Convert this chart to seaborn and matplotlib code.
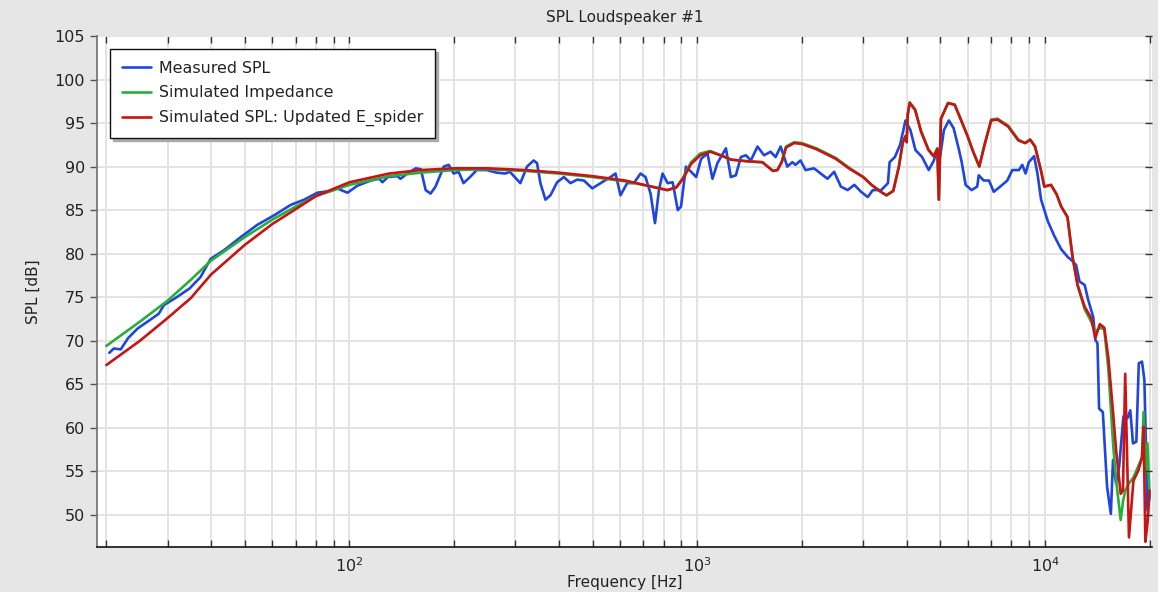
import numpy as np
import pandas as pd
import matplotlib
matplotlib.use("Agg")
import matplotlib.pyplot as plt
import matplotlib.ticker as mticker
import seaborn as sns

# ---------------- data ----------------
meas_freq = [20.4, 21.0, 22.0, 23.1, 24.6, 26.3, 28.3, 29.3, 31.6, 34.7, 37.3, 39.0, 39.9,
             43.6, 48.7, 54.3, 60.7, 67.8, 74.1, 80.9, 88.3, 92.0, 98.7, 105.4, 115.2, 121.8,
             124.4, 129.0, 137.3, 140.2, 146.6, 155.1, 160.4, 165.6, 171.1, 176.8, 186.7,
             192.9, 199.3, 206.0, 212.8, 222.2, 232.2, 248.1, 265.2, 280.2, 289.3, 310.0,
             324.0, 338.6, 346.2, 354.0, 366.0, 378.3, 395.5, 413.4, 432.0, 451.7, 472.1,
             499.0, 527.5, 563.2, 582.0, 601.6, 628.8, 657.3, 687.0, 710.0, 734.0, 756.0,
             776.0, 795.0, 822.0, 850.0, 879.0, 898.0, 928.0, 960.0, 993.0, 1026.0, 1070.0,
             1106.0, 1143.0, 1209.0, 1249.0, 1291.0, 1335.0, 1380.0, 1426.0, 1490.0, 1556.0,
             1625.0, 1680.0, 1737.0, 1815.0, 1877.0, 1916.0, 1981.0, 2048.0, 2166.0, 2265.0,
             2368.0, 2475.0, 2588.0, 2706.0, 2829.0, 2958.0, 3092.0, 3197.0, 3380.0, 3534.0,
             3573.0, 3700.0, 3830.0, 3970.0, 4100.0, 4240.0, 4430.0, 4630.0, 4790.0, 4900.0,
             5000.0, 5120.0, 5290.0, 5460.0, 5650.0, 5760.0, 5910.0, 6150.0, 6380.0, 6450.0,
             6660.0, 6900.0, 7120.0, 7430.0, 7790.0, 8050.0, 8410.0, 8600.0, 8790.0, 8980.0,
             9300.0, 9510.0, 9740.0, 10190.0, 10640.0, 11130.0, 11630.0, 11880.0, 12280.0,
             12560.0, 13000.0, 13300.0, 13760.0, 13950.0, 14150.0, 14300.0, 14660.0, 15080.0,
             15460.0, 15680.0, 16000.0, 16330.0, 16800.0, 17260.0, 17580.0, 17900.0, 18300.0,
             18600.0, 19000.0, 19300.0, 19700.0, 20000.0]
meas_spl = [68.6, 69.1, 69.0, 70.3, 71.4, 72.2, 73.1, 74.1, 74.9, 76.0, 77.3, 78.7, 79.4,
            80.4, 81.9, 83.3, 84.4, 85.6, 86.2, 87.0, 87.2, 87.5, 87.0, 87.8, 88.4, 88.6,
            88.2, 88.8, 88.9, 88.6, 89.2, 89.8, 89.7, 87.3, 86.9, 87.7, 90.0,
            90.2, 89.2, 89.4, 88.1, 88.8, 89.6, 89.6, 89.3, 89.2, 89.4, 88.1,
            90.0, 90.7, 90.4, 88.1, 86.2, 86.7, 88.2, 88.8, 88.1, 88.5, 88.4,
            87.5, 88.1, 88.8, 89.2, 86.7, 88.1, 88.1, 89.2, 88.8, 86.9, 83.5,
            87.3, 89.2, 88.1, 88.2, 85.0, 85.4, 90.0, 89.4, 88.8, 90.9, 91.5,
            88.6, 90.4, 92.1, 88.8, 89.0, 91.1, 91.3, 90.7, 92.3, 91.3,
            91.7, 91.1, 92.3, 90.0, 90.5, 90.2, 90.7, 89.6, 89.8, 89.2,
            88.6, 89.4, 87.7, 87.3, 87.9, 87.1, 86.5, 87.3, 87.3, 88.1,
            90.5, 91.1, 92.5, 95.3, 94.2, 91.9, 91.1, 89.6, 90.7, 92.1,
            91.3, 94.2, 95.3, 94.4, 92.0, 90.5, 87.9, 87.3, 87.7, 89.0,
            88.4, 88.4, 87.1, 87.7, 88.4, 89.6, 89.6, 90.2, 89.2, 90.5,
            91.2, 89.2, 86.2, 83.7, 82.0, 80.5, 79.6, 79.3, 78.7,
            76.8, 76.4, 74.7, 72.7, 70.1, 69.7, 62.2, 61.8, 53.2,
            50.1, 56.3, 53.6, 55.5, 61.3, 61.1, 62.0, 58.2, 58.4,
            67.4, 67.6, 65.5, 50.5, 52.2]

sim_freq = [20.0, 25.0, 30.0, 35.0, 40.0, 50.0, 60.0, 70.0, 80.0, 100.0, 130.0, 160.0, 200.0,
            250.0, 320.0, 400.0, 500.0, 620.0, 720.0, 820.0, 870.0, 910.0, 960.0, 1020.0,
            1090.0, 1185.0, 1250.0, 1400.0, 1540.0, 1650.0, 1700.0, 1750.0, 1800.0, 1900.0,
            2000.0, 2200.0, 2500.0, 2750.0, 3000.0, 3170.0, 3400.0, 3500.0, 3660.0, 3800.0,
            3900.0, 3970.0, 4000.0, 4030.0, 4080.0, 4230.0, 4400.0, 4620.0, 4780.0, 4900.0,
            4950.0, 5020.0, 5260.0, 5500.0, 5740.0, 6000.0, 6200.0, 6470.0, 6700.0, 7000.0,
            7300.0, 7830.0, 8380.0, 8770.0, 9060.0, 9360.0, 9740.0, 9950.0, 10400.0, 10800.0,
            11130.0, 11600.0, 12000.0, 12400.0, 13000.0, 13570.0, 13950.0, 14370.0, 14800.0,
            15200.0, 15700.0, 16000.0, 16500.0, 16750.0, 17000.0, 17430.0, 17950.0, 18550.0,
            19000.0, 19200.0, 19430.0, 19700.0, 19970.0]
imp_spl = [69.4, 72.2, 74.6, 77.0, 79.2, 81.9, 83.9, 85.4, 86.6, 87.9, 88.9, 89.3, 89.6,
           89.7, 89.5, 89.2, 88.8, 88.3, 87.8, 87.3, 87.6, 88.7, 90.5, 91.5,
           91.8, 91.2, 90.8, 90.6, 90.5, 89.5, 89.6, 90.6, 92.3, 92.8,
           92.7, 92.1, 91.0, 89.8, 88.8, 87.9, 87.0, 86.7, 87.2, 90.0,
           92.8, 93.5, 92.8, 96.0, 97.4, 96.6, 94.1, 92.0, 91.2, 92.0,
           86.2, 95.5, 97.3, 97.1, 95.3, 93.4, 91.8, 90.0, 92.5, 95.4,
           95.5, 94.7, 93.1, 92.7, 93.1, 92.3, 89.5, 87.7, 87.9, 86.8,
           85.4, 84.2, 79.6, 76.4, 73.6, 72.2, 71.0, 71.5, 71.3,
           66.8, 58.0, 54.0, 49.4, 51.5, 52.8, 53.6, 54.3, 55.6,
           56.6, 61.8, 54.8, 58.2, 52.1]
upd_spl = [67.2, 70.0, 72.6, 74.9, 77.6, 81.0, 83.4, 85.1, 86.6, 88.2, 89.2, 89.6, 89.8,
           89.8, 89.6, 89.3, 88.9, 88.4, 87.8, 87.3, 87.6, 88.6, 90.3, 91.3,
           91.7, 91.2, 90.8, 90.6, 90.5, 89.5, 89.6, 90.5, 92.2, 92.7,
           92.6, 92.0, 90.9, 89.7, 88.8, 87.9, 87.0, 86.7, 87.2, 90.0,
           92.8, 93.5, 92.8, 96.0, 97.3, 96.5, 94.0, 91.9, 91.2, 92.0,
           86.2, 95.5, 97.3, 97.1, 95.3, 93.4, 91.8, 90.0, 92.5, 95.3,
           95.4, 94.6, 93.0, 92.7, 93.1, 92.3, 89.5, 87.7, 87.9, 86.8,
           85.4, 84.2, 79.6, 76.4, 73.9, 72.6, 70.3, 71.9, 71.5,
           68.1, 61.6, 57.5, 52.4, 52.8, 66.2, 47.4, 53.9, 55.1,
           56.6, 60.1, 46.9, 49.0, 52.8]

y_ticks = [50, 55, 60, 65, 70, 75, 80, 85, 90, 95, 100, 105]
labels = ["Measured SPL", "Simulated Impedance", "Simulated SPL: Updated E_spider"]
colors = ["#1f45e0", "#2aae3a", "#c81414"]

df = pd.concat([
    pd.DataFrame({"f": meas_freq, "spl": meas_spl, "series": labels[0]}),
    pd.DataFrame({"f": sim_freq, "spl": imp_spl, "series": labels[1]}),
    pd.DataFrame({"f": sim_freq, "spl": upd_spl, "series": labels[2]}),
], ignore_index=True)

# ---------------- style ----------------
sns.set_theme(style="white")
plt.rcParams["font.family"] = ["DejaVu Sans"]

fig = plt.figure(figsize=(11.58, 5.92), dpi=100, facecolor="#e6e6e6")
ax = fig.add_axes([97 / 1158, 1 - 547 / 592, (1152 - 97) / 1158, (547 - 36) / 592])
ax.set_facecolor("white")

sns.lineplot(data=df, x="f", y="spl", hue="series", hue_order=labels,
             palette=colors, linewidth=1.9, sort=False, estimator=None, ax=ax)

ax.set_xscale("log")
ax.set_xlim(18.8, 20300)
ax.set_ylim(46.3, 105)
ax.set_yticks(y_ticks)
ax.xaxis.set_major_locator(mticker.LogLocator(base=10, numticks=10))
ax.xaxis.set_minor_locator(mticker.LogLocator(base=10, subs=np.arange(2, 10), numticks=20))
ax.xaxis.set_minor_formatter(mticker.NullFormatter())

ax.grid(True, which="major", axis="both", color="#e3e3e3", linewidth=1.4)
ax.grid(True, which="minor", axis="x", color="#e3e3e3", linewidth=1.4)
ax.set_axisbelow(True)

for s in ["top", "right"]:
    ax.spines[s].set_visible(False)
ax.spines["left"].set_color("#707070")
ax.spines["left"].set_linewidth(1.2)
ax.spines["bottom"].set_color("#111111")
ax.spines["bottom"].set_linewidth(1.2)

ax.tick_params(axis="x", which="both", direction="in", length=5, width=1,
               color="#333333", top=True, bottom=True, labelsize=11.5, pad=7,
               labelcolor="#222222")
ax.tick_params(axis="y", which="major", direction="out", length=5, width=1,
               color="#555555", left=True, right=False, labelsize=11.5,
               labelcolor="#222222")
ax.tick_params(axis="y", which="minor", left=False, right=False)

# right-hand inward ticks
ax_r = ax.twinx()
ax_r.set_ylim(ax.get_ylim())
ax_r.set_yticks(y_ticks)
ax_r.tick_params(axis="y", direction="in", length=5, width=1, color="#333333",
                 labelright=False, right=True)
ax_r.grid(False)
for s in ax_r.spines.values():
    s.set_visible(False)

ax.set_xlabel("Frequency [Hz]", fontsize=11, color="#222222", labelpad=0)
ax.set_ylabel("SPL [dB]", fontsize=11, color="#222222", labelpad=10)
ax.set_title("SPL Loudspeaker #1", fontsize=11, color="#222222", pad=10)

leg = ax.legend(loc="upper left", bbox_to_anchor=(0.0123, 0.975), borderaxespad=0,
                fontsize=11.4, frameon=True, fancybox=False, edgecolor="#111111",
                framealpha=1, handlelength=1.85, labelspacing=0.62, borderpad=0.75,
                handletextpad=0.5, shadow={"color": "#aaaaaa", "alpha": 1.0})
leg.get_frame().set_linewidth(1.0)
for t in leg.get_texts():
    t.set_color("#222222")
for h in leg.get_lines():
    h.set_linewidth(1.9)

fig.savefig("out.png", dpi=100, facecolor=fig.get_facecolor())
